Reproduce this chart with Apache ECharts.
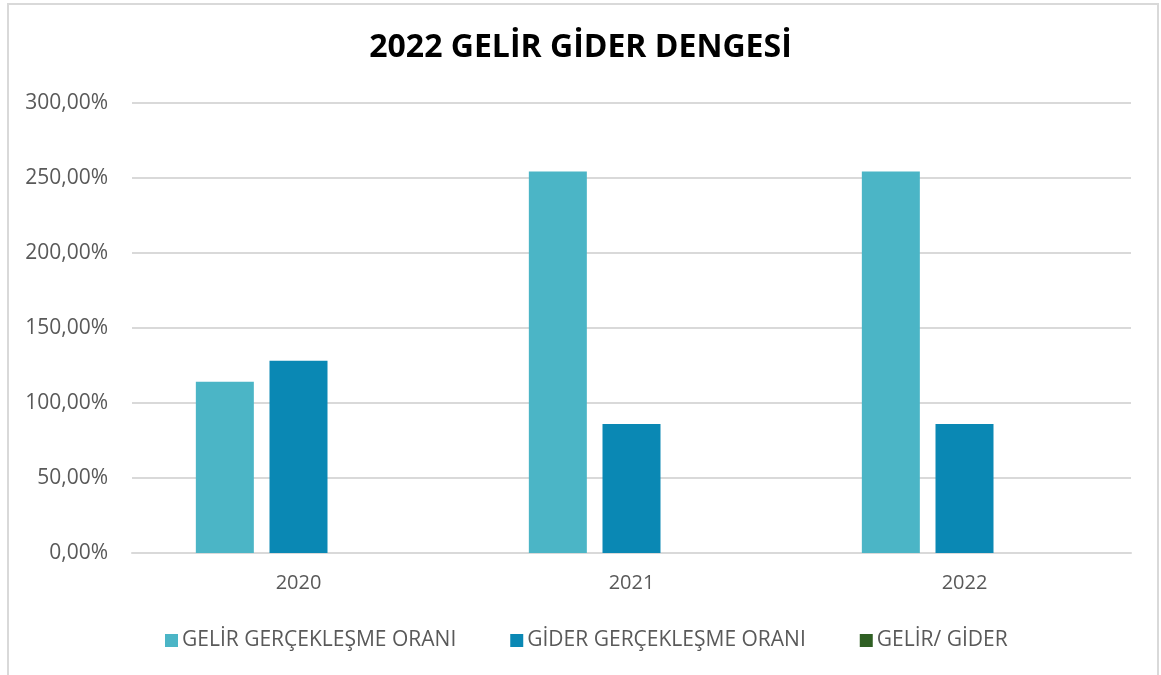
<!DOCTYPE html>
<html>
<head>
<meta charset="utf-8">
<title>2022 GELİR GİDER DENGESİ</title>
<script src="https://cdn.jsdelivr.net/npm/echarts@6/dist/echarts.min.js"></script>
<style>
    html, body { margin: 0; padding: 0; background: #ffffff; }
    #gelir-gider-chart { width: 1161px; height: 675px; }
</style>
</head>
<body>
<div id="gelir-gider-chart"></div>
<script>
// 数据
var years = ['2020', '2021', '2022'];
var gelirOrani = [114.2, 254.4, 254.4];
var giderOrani = [128.2, 86.0, 86.0];
var gelirGider = [0, 0, 0];
var seriesNames = ['GELİR GERÇEKLEŞME ORANI', 'GİDER GERÇEKLEŞME ORANI', 'GELİR/ GİDER'];

var myChart = echarts.init(document.getElementById('gelir-gider-chart'));

/**
 * [yüzde formatı, ör. 300,00%]
 * @param  value [değer]
 */
function formatPercent(value) {
    return value.toFixed(2).replace('.', ',') + '%';
}

/**
 * [bar serisi]
 * @param name  [seri adı]
 * @param data  [değerler]
 * @param color [renk]
 */
function barSeries(name, data, color) {
    return {
        name: name,
        type: 'bar',
        data: data,
        barWidth: 58,
        barGap: '27%',
        itemStyle: { color: color },
        emphasis: { disabled: true }
    };
}

var option = {
    animation: false,
    textStyle: { fontFamily: 'Open Sans' },
    title: {
        text: '2022 GELİR GİDER DENGESİ',
        left: 'center',
        top: 27,
        textStyle: { fontFamily: 'Open Sans', fontSize: 32, fontWeight: 'bold', color: '#000000' }
    },
    graphic: [{
        type: 'rect',
        shape: { x: 8, y: 4, width: 1150, height: 720 },
        style: { fill: 'none', stroke: '#D9D9D9', lineWidth: 2 },
        silent: true
    }],
    legend: {
        data: seriesNames,
        left: 160,
        top: 625,
        itemWidth: 13,
        itemHeight: 13,
        itemGap: 54,
        icon: 'rect',
        textStyle: { fontSize: 21, color: '#595959', padding: [0, 0, 0, -1] }
    },
    grid: { left: 132, right: 30, top: 103, bottom: 122 },
    xAxis: {
        type: 'category',
        data: years,
        axisLine: { lineStyle: { color: '#D9D9D9', width: 2 } },
        axisTick: { show: false },
        axisLabel: { fontSize: 20, color: '#595959', margin: 20 }
    },
    yAxis: {
        type: 'value',
        min: 0,
        max: 300,
        interval: 50,
        axisLine: { show: false },
        axisTick: { show: false },
        splitLine: { lineStyle: { color: '#D9D9D9', width: 2 } },
        axisLabel: { fontSize: 21, color: '#595959', margin: 24, formatter: formatPercent }
    },
    series: [
        barSeries(seriesNames[0], gelirOrani, '#4BB5C6'),
        barSeries(seriesNames[1], giderOrani, '#0A88B4'),
        barSeries(seriesNames[2], gelirGider, '#2F5F23')
    ]
};

myChart.setOption(option, true);
</script>
</body>
</html>
